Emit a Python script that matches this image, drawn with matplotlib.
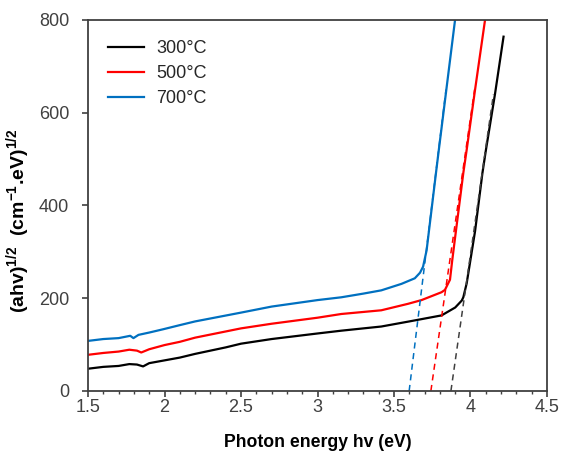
import matplotlib
matplotlib.use('Agg')
import matplotlib.pyplot as plt
from matplotlib.ticker import MultipleLocator, FuncFormatter

plt.rcParams['font.family'] = ['Liberation Sans', 'DejaVu Sans']
plt.rcParams['mathtext.fontset'] = 'custom'
plt.rcParams['mathtext.rm'] = 'Liberation Sans'
plt.rcParams['mathtext.bf'] = 'Liberation Sans:bold'

# Tauc plot data
x_300 = [1.5, 1.6, 1.7, 1.77, 1.82, 1.86, 1.9, 2.0, 2.1, 2.2, 2.4, 2.5, 2.7, 3.0, 3.155,
         3.3, 3.417, 3.6, 3.811, 3.9, 3.943, 3.953, 3.975, 4.03, 4.078, 4.10, 4.16, 4.216]
y_300 = [48, 52, 54, 58, 57, 53, 60, 66, 72, 80, 94, 102, 112, 124, 130,
         135, 139, 150, 163, 180, 195, 202, 232, 345, 470, 518, 640, 764]

x_500 = [1.5, 1.6, 1.7, 1.77, 1.82, 1.848, 1.9, 2.0, 2.1, 2.2, 2.5, 2.7, 3.0, 3.155,
         3.417, 3.592, 3.68, 3.811, 3.833, 3.866, 3.88, 3.899, 3.953, 3.975, 4.03, 4.095]
y_500 = [78, 82, 85, 89, 87, 83, 90, 99, 106, 115, 135, 145, 158, 166,
         174, 188, 196, 213, 218, 240, 280, 330, 470, 520, 650, 800]

x_700 = [1.5, 1.6, 1.7, 1.776, 1.797, 1.83, 1.9, 1.99, 2.1, 2.2, 2.5, 2.7, 3.0, 3.155,
         3.3, 3.417, 3.549, 3.636, 3.67, 3.69, 3.713, 3.778, 3.793, 3.899]
y_700 = [108, 112, 114, 119, 114, 121, 126, 133, 142, 150, 169, 182, 196, 202,
         210, 217, 231, 243, 255, 268, 303, 480, 520, 800]

# linear fits extrapolated to the energy axis (band gap)
fit_300_x = [3.872, 4.15]
fit_300_y = [0, 640]
fit_500_x = [3.741, 4.027]
fit_500_y = [0, 650]
fit_700_x = [3.599, 3.84]
fit_700_y = [0, 650]

labels = ['300°C', '500°C', '700°C']
colors = ['#000000', '#FF0000', '#0070C0']
fit_colors = ['#404040', '#FF0000', '#0070C0']

fig = plt.figure(figsize=(5.62, 4.54), dpi=100)
ax = fig.add_axes([0.1566, 0.1388, 0.8167, 0.8172])

curves = [(x_300, y_300), (x_500, y_500), (x_700, y_700)]
fits = [(fit_300_x, fit_300_y), (fit_500_x, fit_500_y), (fit_700_x, fit_700_y)]

for (xs, ys), lab, c in zip(curves, labels, colors):
    ax.plot(xs, ys, color=c, lw=1.6, label=lab)
for (xs, ys), c in zip(fits, fit_colors):
    ax.plot(xs, ys, color=c, lw=1.1, ls=(0, (4, 3)))

ax.set_xlim(1.5, 4.5)
ax.set_ylim(0, 800)
ax.xaxis.set_major_locator(MultipleLocator(0.5))
ax.xaxis.set_minor_locator(MultipleLocator(0.1))
ax.yaxis.set_major_locator(MultipleLocator(200))
ax.xaxis.set_major_formatter(FuncFormatter(lambda v, p: f'{v:g}'))

for s in ax.spines.values():
    s.set_color('#404040')
    s.set_linewidth(1.3)
ax.tick_params(axis='both', which='major', direction='out', length=4.5, width=1.2,
               color='#404040', labelsize=13, labelcolor='#404040')
ax.tick_params(axis='x', which='major', pad=1)
ax.tick_params(axis='y', which='major', pad=9)
ax.tick_params(axis='x', which='minor', direction='out', length=2.5, width=1.0, color='#404040')

ax.set_xlabel('Photon energy hv (eV)', fontsize=12.7, fontweight='bold', labelpad=13)
ax.set_ylabel(r'(ahv)$^{\mathbf{1/2}}$  (cm$^{\mathbf{-1}}$.eV)$^{\mathbf{1/2}}$',
              fontsize=14, fontweight='bold')
ax.yaxis.set_label_coords(-0.12, 0.46)

leg = ax.legend(loc='upper left', frameon=False, fontsize=13, handlelength=2.0,
                handletextpad=0.7, labelspacing=0.45, borderaxespad=0.7)
for t in leg.get_texts():
    t.set_color('#262626')

fig.savefig('out.png', dpi=100)
